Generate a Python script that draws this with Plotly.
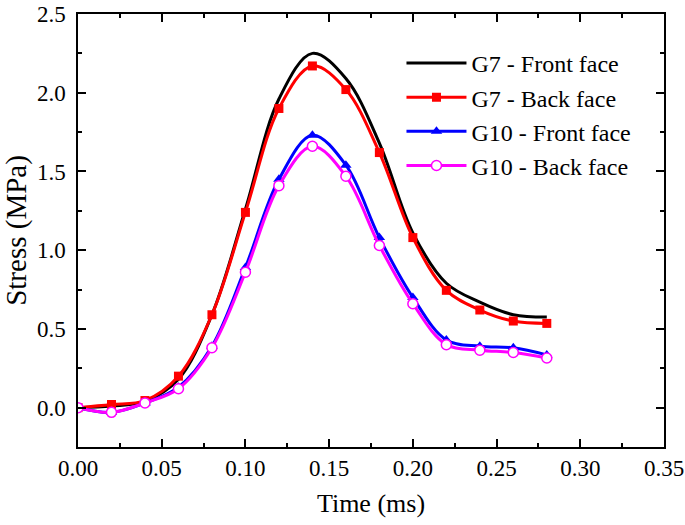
import plotly.graph_objects as go

time_ms = [0.00, 0.02, 0.04, 0.06, 0.08, 0.10, 0.12, 0.14, 0.16, 0.18, 0.20, 0.22, 0.24, 0.26, 0.28]

g7_front = [0.00, 0.01, 0.04, 0.18, 0.59, 1.26, 1.96, 2.25, 2.09, 1.68, 1.11, 0.79, 0.67, 0.59, 0.575]
g7_back = [0.00, 0.02, 0.045, 0.20, 0.59, 1.24, 1.90, 2.17, 2.02, 1.62, 1.08, 0.745, 0.62, 0.55, 0.535]
g10_front = [0.00, -0.03, 0.03, 0.13, 0.39, 0.89, 1.45, 1.73, 1.54, 1.08, 0.70, 0.43, 0.39, 0.38, 0.335]
g10_back = [0.00, -0.03, 0.03, 0.12, 0.38, 0.86, 1.41, 1.66, 1.47, 1.03, 0.66, 0.40, 0.365, 0.35, 0.315]

font_family = "Liberation Serif, Times New Roman, serif"

fig = go.Figure()
fig.add_trace(go.Scatter(x=time_ms, y=g7_front, name="G7 - Front face", mode="lines",
                         line=dict(color="black", width=3, shape="spline")))
fig.add_trace(go.Scatter(x=time_ms, y=g7_back, name="G7 - Back face", mode="lines+markers",
                         line=dict(color="#ff0000", width=3, shape="spline"),
                         marker=dict(symbol="square", size=9, color="#ff0000")))
fig.add_trace(go.Scatter(x=time_ms, y=g10_front, name="G10 - Front face", mode="lines+markers",
                         line=dict(color="#0000ff", width=3, shape="spline"),
                         marker=dict(symbol="triangle-up", size=10, color="#0000ff")))
fig.add_trace(go.Scatter(x=time_ms, y=g10_back, name="G10 - Back face", mode="lines+markers",
                         line=dict(color="#ff00ff", width=3, shape="spline"),
                         marker=dict(symbol="circle", size=10, color="white",
                                     line=dict(color="#ff00ff", width=1.5))))

axis_style = dict(
    showline=True, linecolor="black", linewidth=1.5, mirror="ticks",
    ticks="inside", ticklen=8, tickwidth=1.5, tickcolor="black",
    showgrid=False, zeroline=False, automargin=False,
    tickfont=dict(family=font_family, size=23, color="black"),
)

fig.update_xaxes(
    range=[0, 0.35], dtick=0.05, tickformat=".2f",
    minor=dict(ticks="inside", ticklen=4, tickwidth=1.5, dtick=0.025, tickcolor="black"),
    title_text="Time (ms)", title_standoff=13,
    title_font=dict(family=font_family, size=26, color="black"),
    **axis_style,
)
fig.update_yaxes(
    range=[-0.25, 2.5], dtick=0.5, tickformat=".1f", ticklabelstandoff=6,
    minor=dict(ticks="inside", ticklen=4, tickwidth=1.5, dtick=0.25, tickcolor="black"),
    title_text="Stress (MPa)", title_standoff=10,
    title_font=dict(family=font_family, size=29, color="black"),
    **axis_style,
)

fig.update_layout(
    width=685, height=525,
    margin=dict(l=78, r=21, t=14, b=78),
    paper_bgcolor="white", plot_bgcolor="white",
    font=dict(family=font_family, size=23, color="black"),
    showlegend=True,
    legend=dict(
        x=0.552, y=0.938, xanchor="left", yanchor="top",
        bgcolor="rgba(0,0,0,0)", borderwidth=0,
        font=dict(family=font_family, size=24, color="black"),
        itemwidth=60, tracegroupgap=0,
    ),
)

# drop the default page margin so the figure sits at the window's corner
fig.write_html("out.html", config={"displayModeBar": False},
               post_script="document.body.style.margin='0';")
